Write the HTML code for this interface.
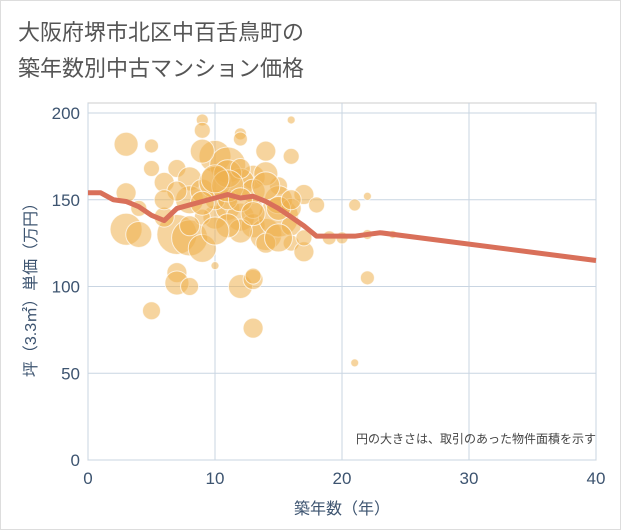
<!DOCTYPE html>
<html><head><meta charset="utf-8"><style>
body{margin:0;background:#fff;}
svg{display:block;font-family:"Liberation Sans","Noto Sans CJK JP",sans-serif;}
</style></head><body>
<svg id="c" width="621" height="530">
<rect x="0.5" y="0.5" width="620" height="529" fill="#fff" stroke="#ddd"/>
<text x="18" y="40" font-size="22" fill="#555">大阪府堺市北区中百舌鳥町の</text>
<text x="18" y="76" font-size="22" fill="#555">築年数別中古マンション価格</text>
<g id="grid"></g>
<g id="bubbles"></g>
<g id="line"></g>
<g id="axes"></g>
<text x="596" y="443" font-size="12" fill="#444" text-anchor="end">円の大きさは、取引のあった物件面積を示す</text>
<text x="342" y="514" font-size="16" fill="#3d5470" text-anchor="middle">築年数（年）</text>
<text transform="translate(36,286) rotate(-90)" font-size="16" fill="#3d5470" text-anchor="middle">坪（3.3㎡）単価（万円）</text>
</svg>
<script>
const xTicks=[0,10,20,30,40];
const yTicks=[0,50,100,150,200];
const lineAges=[0,1,2,3,4,5,6,7,8,9,10,11,12,13,14,15,16,17,18,19,20,21,22,23,40];
const linePrices=[154,154,150,149,146,141,138,145,147,149,151,153,151,152,149,145,140,135,129,129,129,129,130,131,115];
const bubbleAges=[3,5,9,9,12,12,16,10,11,9,14,16,7,5,8,6,3,4,13,12,15,17,18,21,22,3,4,7,8,9,6,10,11,12,13,14,15,16,16,17,17,19,20,22,24,7,7,8,10,12,13,13,5,13,21,22,10,11,13,9,
 8,9,10,11,12,14,15,13,11,10,9,8,12,14,15,16,11,10,12,13,7,6,15,16,14];
const bubblePrices=[182,181,196,190,188,185,196,175,170,178,178,175,168,168,162,160,154,145,163,160,158,153,147,147,152,133,130,130,128,122,140,140,145,140,135,130,140,135,125,120,128,128,128,130,130,108,102,100,112,100,104,106,86,76,56,105,150,150,145,140,
 150,155,160,165,168,165,150,155,158,162,148,135,132,125,128,145,135,132,150,142,155,150,145,150,158];
const bubbleRadii=[12,7,6,8,6,7,4,16,18,12,10,8,9,8,12,10,10,8,12,14,9,10,8,6,4,16,13,20,18,14,10,12,12,14,12,16,20,10,8,10,8,7,6,5,4,10,12,9,4,12,10,8,9,10,4,7,10,10,10,8,
 14,12,16,14,10,12,14,12,16,14,12,10,12,10,14,10,12,14,12,12,10,10,12,10,14];
const L=88,R=596,T=103,B=460;
const sx=a=>L+a/40*(R-L);
const sy=p=>B-p/200*(B-113);
const NS="http://www.w3.org/2000/svg";
function mk(t,at,par){const e=document.createElementNS(NS,t);for(const k in at)e.setAttribute(k,at[k]);document.getElementById(par).appendChild(e);return e;}
const fr=mk('rect',{x:L,y:T,width:R-L,height:B-T,fill:'none',stroke:'#ccc'},'grid');


xTicks.forEach(v=>{const g=mk('line',{x1:sx(v),x2:sx(v),y1:T,y2:B,stroke:'#c9d5e2'},'grid');


const t=mk('text',{x:sx(v),y:B+24,'font-size':17,fill:'#3d5470','text-anchor':'middle'},'axes');t.textContent=v;

});
yTicks.forEach(v=>{const g=mk('line',{x1:L,x2:R,y1:sy(v),y2:sy(v),stroke:'#c9d5e2'},'grid');


const t=mk('text',{x:L-8,y:sy(v)+6,'font-size':17,fill:'#3d5470','text-anchor':'end'},'axes');t.textContent=v;

});
bubbleAges.forEach((a,i)=>{const c=mk('circle',{cx:sx(a),cy:sy(bubblePrices[i]),r:bubbleRadii[i],fill:'#efb04f','fill-opacity':0.55,stroke:'#fff','stroke-opacity':0.7,'stroke-width':1},'bubbles');

});
const pl=mk('polyline',{points:lineAges.map((a,i)=>sx(a)+','+sy(linePrices[i])).join(' '),fill:'none',stroke:'#d9705a','stroke-width':5,'stroke-linejoin':'round'},'line');


</script>
</body></html>
